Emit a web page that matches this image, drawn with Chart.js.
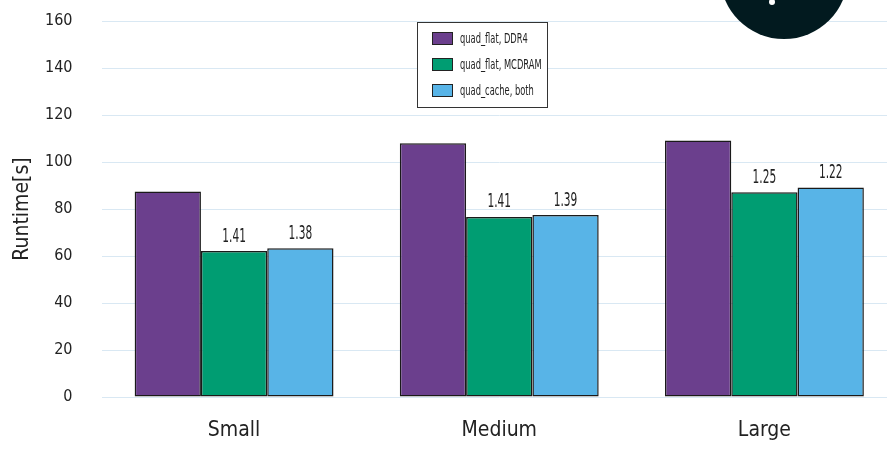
<!DOCTYPE html>
<html>
<head>
<meta charset="utf-8">
<script src="https://cdn.jsdelivr.net/npm/chart.js@4.4.0/dist/chart.umd.min.js"></script>
<style>
    html, body { margin: 0; padding: 0; background: #fff; overflow: hidden; }
    #wrap { width: 897px; height: 450px; }
</style>
</head>
<body>
<div id="wrap"><canvas id="runtimeChart"></canvas></div>
<script>
// data
const sizes = ['Small', 'Medium', 'Large'];
const ddr4 = [87.4, 108.0, 109.1];
const mcdram = [62.1, 76.6, 87.1];
const cacheBoth = [63.3, 77.4, 89.2];
// speedup labels printed above the bars
const mcdramSpeedup = ['1.41', '1.41', '1.25'];
const cacheSpeedup = ['1.38', '1.39', '1.22'];
const yTicks = [0, 20, 40, 60, 80, 100, 120, 140, 160];

const FONT = "'DejaVu Sans Condensed', 'DejaVu Sans', sans-serif";
const TEXT = '#222';

// squeezed text, the original uses a very narrow face
function narrowText(ctx, str, x, y, squeeze) {
    ctx.save();
    ctx.translate(x, y);
    ctx.scale(squeeze, 1);
    ctx.fillText(str, 0, 0);
    ctx.restore();
}

// little labels above the green / blue bars
const speedupLabels = {
    id: 'speedupLabels',
    afterDatasetsDraw(chart) {
        const ctx = chart.ctx;
        ctx.save();
        ctx.font = `19px ${FONT}`;
        ctx.fillStyle = TEXT;
        ctx.textAlign = 'center';
        ctx.textBaseline = 'bottom';
        [[1, mcdramSpeedup], [2, cacheSpeedup]].forEach(([di, labels]) => {
            chart.getDatasetMeta(di).data.forEach((bar, i) => {
                narrowText(ctx, labels[i], bar.x, bar.y - 5, 0.62);
            });
        });
        ctx.restore();
    }
};

// boxed legend inside the plot, plus the dark badge at the top right
const boxLegend = {
    id: 'boxLegend',
    afterDraw(chart) {
        const ctx = chart.ctx;
        ctx.save();
        // badge
        ctx.fillStyle = '#021a1f';
        ctx.beginPath();
        ctx.arc(784, -25, 64, 0, Math.PI * 2);
        ctx.fill();
        ctx.fillStyle = '#fff';
        ctx.beginPath();
        ctx.arc(772, 2, 3, 0, Math.PI * 2);
        ctx.fill();

        const x = 417, y = 22, w = 130, h = 85;
        ctx.fillStyle = '#fff';
        ctx.fillRect(x, y, w, h);
        ctx.strokeStyle = '#333';
        ctx.lineWidth = 1;
        ctx.strokeRect(x + 0.5, y + 0.5, w, h);
        ctx.font = `14px ${FONT}`;
        ctx.textBaseline = 'middle';
        ctx.textAlign = 'left';
        chart.data.datasets.forEach((ds, i) => {
            const ry = y + 10 + i * 26;
            ctx.fillStyle = ds.backgroundColor;
            ctx.fillRect(432, ry, 21, 13);
            ctx.strokeStyle = '#222';
            ctx.strokeRect(432.5, ry + 0.5, 20, 12);
            ctx.fillStyle = TEXT;
            narrowText(ctx, ds.label, 460, ry + 7, 0.66);
        });
        ctx.restore();
    }
};

new Chart(document.getElementById('runtimeChart'), {
    type: 'bar',
    data: {
        labels: sizes,
        datasets: [
            { label: 'quad_flat, DDR4', data: ddr4, backgroundColor: '#6b3f8d' },
            { label: 'quad_flat, MCDRAM', data: mcdram, backgroundColor: '#009d72' },
            { label: 'quad_cache, both', data: cacheBoth, backgroundColor: '#58b4e7' },
        ].map(ds => Object.assign(ds, {
            borderColor: '#1a1a1a',
            borderWidth: 1.5,
            borderSkipped: false,
            categoryPercentage: 0.75,
            barPercentage: 1.0,
        }))
    },
    options: {
        responsive: true,
        maintainAspectRatio: false,
        animation: false,
        layout: { padding: { top: 21, left: 0, right: 0, bottom: 0 } },
        plugins: {
            legend: { display: false },
            tooltip: { enabled: false },
        },
        scales: {
            x: {
                grid: { display: false },
                border: { display: false },
                ticks: { color: TEXT, font: { family: FONT, size: 21 }, padding: 13 },
                afterFit: (axis) => {
                    axis.height = 53;
                    axis.paddingLeft = 0;
                    axis.paddingRight = 0;
                },
            },
            y: {
                min: 0,
                max: 160,
                afterBuildTicks: (axis) => { axis.ticks = yTicks.map(v => ({ value: v })); },
                grid: { color: '#d9e8f3', lineWidth: 1, drawTicks: false },
                border: { display: false },
                ticks: { color: TEXT, font: { family: FONT, size: 16 }, padding: 29 },
                title: {
                    display: true,
                    text: 'Runtime[s]',
                    color: TEXT,
                    font: { family: FONT, size: 21 },
                    padding: { top: 10, bottom: 4 },
                },
                afterFit: (axis) => {
                    axis.width = 101.5;
                    axis.paddingTop = 0;
                    axis.paddingBottom = 0;
                },
            },
        },
    },
    plugins: [speedupLabels, boxLegend],
});
</script>
</body>
</html>
